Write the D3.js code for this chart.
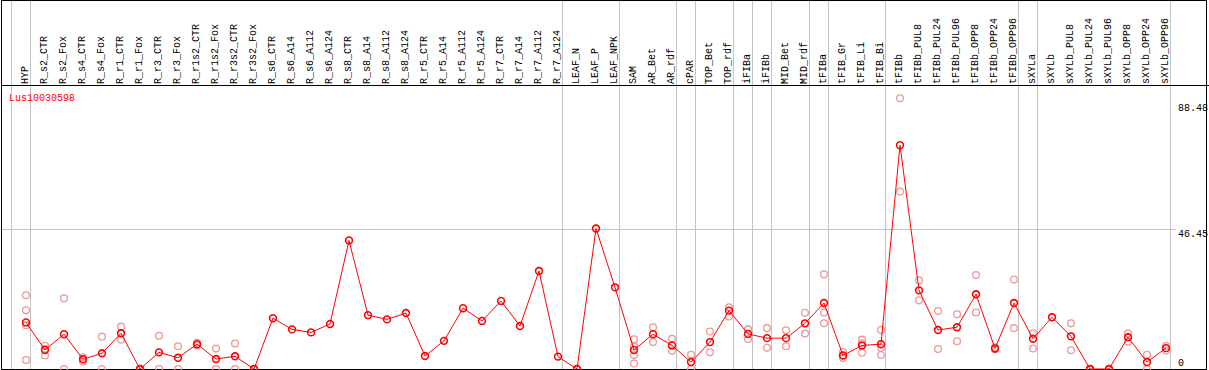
<!DOCTYPE html>
<html>
<head>
<meta charset="utf-8">
<script src="https://cdn.jsdelivr.net/npm/d3@7"></script>
<style>
  html, body { margin: 0; padding: 0; background: #fff; }
  svg { display: block; }
  text { font-family: "Liberation Mono", "DejaVu Sans Mono", monospace; font-size: 10px; }
</style>
</head>
<body>
<svg id="chart" width="1209" height="370"></svg>
<script>
const geneName = "Lus10030598";

const categories = [
  "HYP",
  "R_s2_CTR","R_s2_Fox","R_s4_CTR","R_s4_Fox","R_r1_CTR","R_r1_Fox","R_r3_CTR","R_r3_Fox",
  "R_r1s2_CTR","R_r1s2_Fox","R_r3s2_CTR","R_r3s2_Fox",
  "R_s6_CTR","R_s6_A14","R_s6_A112","R_s6_A124","R_s8_CTR","R_s8_A14","R_s8_A112","R_s8_A124",
  "R_r5_CTR","R_r5_A14","R_r5_A112","R_r5_A124","R_r7_CTR","R_r7_A14","R_r7_A112","R_r7_A124",
  "LEAF_N","LEAF_P","LEAF_NPK",
  "SAM","AR_Bet","AR_rdf",
  "cPAR",
  "TOP_Bet","TOP_rdf",
  "iFIBa",
  "iFIBb",
  "MID_Bet","MID_rdf",
  "tFIBa",
  "tFIB_Gr","tFIB_Li","tFIB_Bi",
  "tFIBb","tFIBb_PUL8","tFIBb_PUL24","tFIBb_PUL96","tFIBb_OPP8","tFIBb_OPP24","tFIBb_OPP96",
  "sXYLa",
  "sXYLb","sXYLb_PUL8","sXYLb_PUL24","sXYLb_PUL96","sXYLb_OPP8","sXYLb_OPP24","sXYLb_OPP96"
];

// group separators are drawn before these categories (plus one after the last)
const groupStarts = ["HYP","R_s2_CTR","LEAF_N","SAM","cPAR","TOP_Bet","iFIBa","iFIBb",
  "MID_Bet","tFIBa","tFIB_Gr","tFIBb","sXYLa","sXYLb"];

const means = [
  15.4,
  6.3, 11.5, 3.2, 5.2, 11.8, 0, 5.5, 3.7,
  8.2, 3.3, 4.2, 0,
  16.8, 13.1, 12.1, 14.9, 42.5, 17.8, 16.4, 18.5,
  4.3, 9.3, 20.1, 15.9, 22.5, 14.2, 32.4, 4.1,
  0, 46.45, 27.0,
  6.3, 11.5, 7.8,
  2.3,
  8.9, 19.3,
  11.6,
  10.2,
  10.2, 15.1,
  21.8,
  4.5, 7.8, 8.2,
  74.0, 26.0, 12.9, 13.8, 24.7, 6.8, 21.8,
  10.0,
  17.1, 10.8, 0, 0, 10.5, 2.3, 6.9
];

const replicates = [
  [24.4, 19.4, 14.5, 3.0],
  [7.7, 4.5, 6.6], [23.4, 0], [3.9, 2.5], [10.7, 0], [14.0, 9.7], [0, 0], [11.0, 0], [7.5, 0],
  [8.7, 7.7], [6.8, 0], [8.4, 0], [0, 0],
  [], [], [], [], [], [], [], [],
  [], [], [], [], [], [], [], [],
  [], [], [],
  [9.8, 7.4, 4.6, 1.8], [13.8, 8.9], [10.0, 6.0],
  [4.7, 0],
  [12.4, 5.5], [20.4, 17.4],
  [13.1, 9.9],
  [13.5, 7.0],
  [12.8, 7.5], [18.6, 11.7],
  [31.3, 18.7, 15.1],
  [5.6, 3.6, 4.3], [9.7, 8.5, 5.4], [12.9, 7.0, 4.6],
  [89.5, 58.7], [29.3, 22.7], [19.2, 6.6], [18.1, 9.2], [31.1, 18.7], [7.2, 6.5], [29.6, 13.5],
  [11.8, 6.8],
  [], [15.1, 6.2], [0, 0], [0, 0], [11.8, 9.0], [4.7, 0], [7.6, 6.1]
];

const yTicks = [0, 46.45, 88.48];

const svg = d3.select("#chart");
const W = 1209, H = 370;
const frame = { left: 1.5, right: 1207.5, top: 0.5, bottom: 369.5, header: 85.5 };

const x = d3.scaleBand().domain(categories).range([11, 1170]).paddingInner(0).paddingOuter(0);
const bw = x.bandwidth();
const px = c => x(c) + bw * 0.79;
const y = d3.scaleLinear().domain([0, 88.48]).range([369, 101.4]);

// group separator lines (light gray, full height)
const sepXs = groupStarts.map(c => x(c)).concat([x.range()[1]]);
svg.append("g").selectAll("line").data(sepXs).join("line")
  .attr("x1", d => Math.round(d) + 0.5).attr("x2", d => Math.round(d) + 0.5)
  .attr("y1", 0).attr("y2", 369)
  .attr("stroke", "#c4c4c4").attr("stroke-width", 1);

// horizontal gridlines for inner ticks
svg.append("g").selectAll("line").data(yTicks.slice(1, -1)).join("line")
  .attr("x1", 1).attr("x2", 1176)
  .attr("y1", d => Math.round(y(d)) + 0.5).attr("y2", d => Math.round(y(d)) + 0.5)
  .attr("stroke", "#c4c4c4").attr("stroke-width", 1);

// frame
svg.append("rect")
  .attr("x", frame.left).attr("y", frame.top)
  .attr("width", frame.right - frame.left - 1).attr("height", frame.bottom - frame.top)
  .attr("fill", "none").attr("stroke", "#000").attr("stroke-width", 1);
svg.append("line")
  .attr("x1", 1).attr("x2", W).attr("y1", frame.header).attr("y2", frame.header)
  .attr("stroke", "#000").attr("stroke-width", 1);

// category labels (rotated)
svg.append("g").selectAll("text").data(categories).join("text")
  .attr("transform", c => `translate(${x(c) + bw * 0.9},84) rotate(-90)`)
  .attr("text-anchor", "start")
  .attr("fill", "#000")
  .text(c => c);

// y tick labels
svg.append("g").selectAll("text").data(yTicks).join("text")
  .attr("x", 1178)
  .attr("y", d => Math.max(111, Math.min(366, y(d) + 8)))
  .attr("fill", "#000")
  .text(d => d3.format("")(d));

// gene name
svg.append("text").attr("x", 9).attr("y", 101).attr("fill", "#ff0000").text(geneName);

// replicate points
const repData = [];
categories.forEach((c, i) => replicates[i].forEach(v => repData.push({ c, v })));
svg.append("g").selectAll("circle").data(repData).join("circle")
  .attr("cx", d => px(d.c)).attr("cy", d => y(d.v)).attr("r", 3.4)
  .attr("fill", "none").attr("stroke", "#f09898").attr("stroke-width", 1.3);

// mean line
const meanData = categories.map((c, i) => ({ c, v: means[i] }));
svg.append("path").datum(meanData)
  .attr("d", d3.line().x(d => px(d.c)).y(d => y(d.v)))
  .attr("fill", "none").attr("stroke", "#ff0000").attr("stroke-width", 1);

// mean points
svg.append("g").selectAll("circle").data(meanData).join("circle")
  .attr("cx", d => px(d.c)).attr("cy", d => y(d.v)).attr("r", 3.4)
  .attr("fill", "none").attr("stroke", "#ff0000").attr("stroke-width", 1.6);
</script>
</body>
</html>
